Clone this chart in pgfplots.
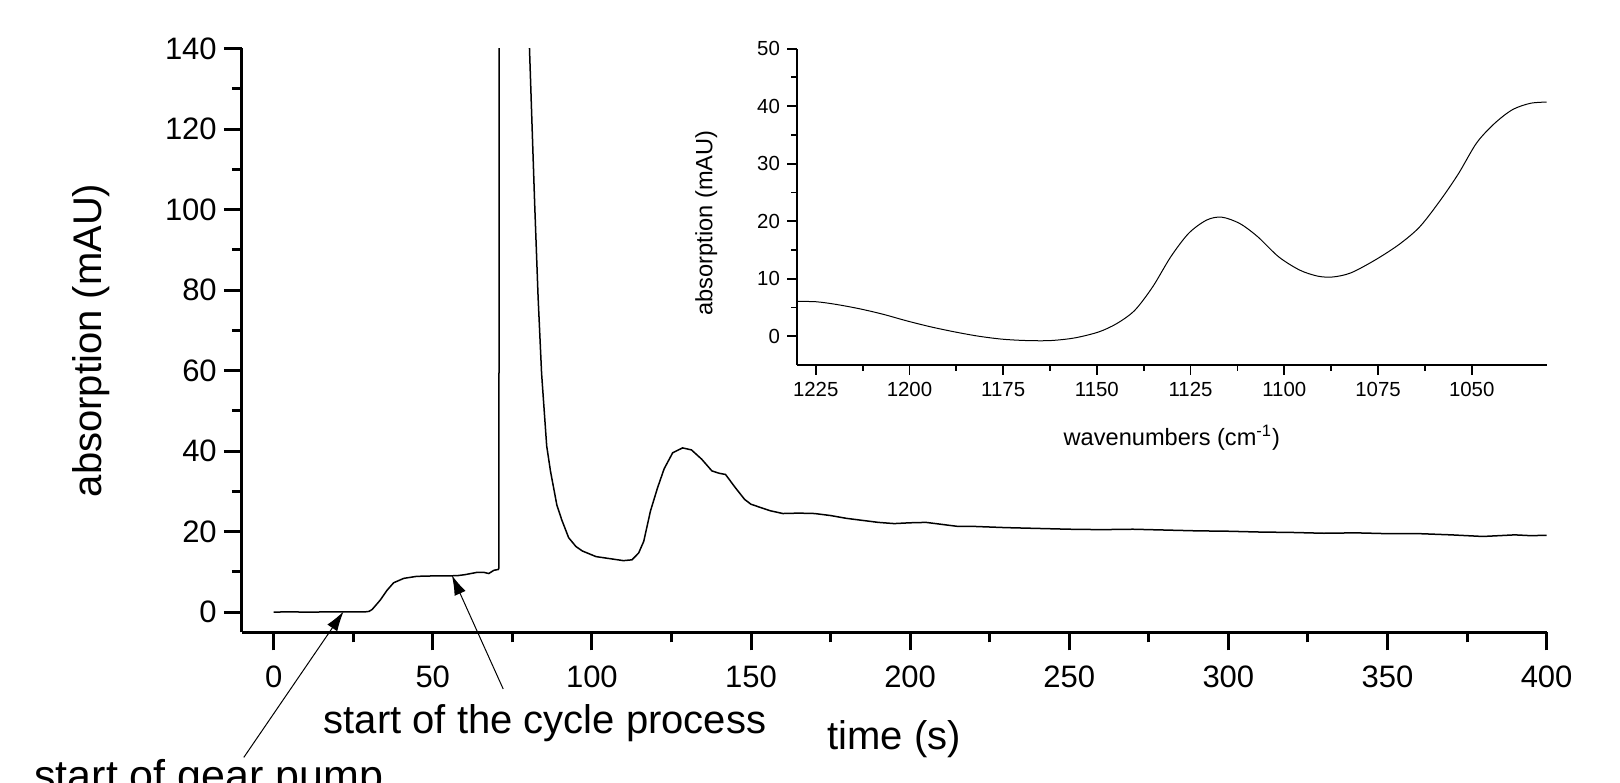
\documentclass[border=0pt]{standalone}
\usepackage{fontspec}
\setmainfont{Liberation Sans}
\usepackage{pgfplots}
\pgfplotsset{compat=1.18}
\usetikzlibrary{arrows.meta}

\begin{document}
\begin{tikzpicture}[x=1pt,y=1pt]
\useasboundingbox (0,0) rectangle (810,391);

% main chromatogram-like trace
\begin{axis}[
  at={(120.9pt,74.85pt)}, anchor=south west,
  scale only axis, width=652.4pt, height=291.9pt,
  xmin=-10, xmax=400, ymin=-5, ymax=140,
  axis x line*=bottom, axis y line*=left,
  axis line style={line width=1.5pt, -},
  xtick={0,50,...,400}, ytick={0,20,...,140},
  minor x tick num=1, minor y tick num=1,
  tick align=outside,
  major tick length=9pt, minor tick length=5pt,
  every tick/.style={black, line width=1.5pt},
  ticklabel style={font=\fontsize{15.5}{18}\selectfont},
  xticklabel style={yshift=-4pt},
  /pgf/number format/assume math mode=true,
  xlabel={time (s)}, ylabel={absorption (mAU)},
  xlabel style={at={(axis description cs:0.5,-0.183)}, anchor=center, font=\fontsize{20}{24}\selectfont},
  ylabel style={at={(axis description cs:-0.1156,0.5)}, anchor=center, font=\fontsize{20}{24}\selectfont},
]
\addplot[black, line width=0.75pt] coordinates {
(0,0) (5,0.1) (10,0) (15,0.05) (20,0.1) (25,0.05) (29,0.1) (30,0.2) (31,0.7)
(33.5,3) (35.6,5.4) (37.7,7.3) (40.9,8.4) (45,8.9) (50,9) (55,9) (58,9.1)
(60,9.3) (62,9.6) (64,9.9) (66,9.9) (67.6,9.6) (69.2,10.4) (70.6,10.6)
(70.8,11) (71.0,600) (79.8,600) (80.4,140) (81,125.7) (82,102) (83.1,78.3)
(84.2,59.3) (85.8,41.3) (87,35) (89,26.6) (90.5,23) (92.7,18.5) (95,16.3)
(97,15.2) (101.3,13.8) (105.6,13.3) (109.9,12.8) (112.6,13) (114.7,14.7)
(116.3,17.6) (118.4,25.1) (120.6,30.8) (122.7,35.6) (125.4,39.6) (128.5,40.8)
(131.3,40.3) (134.5,38) (137.7,35.1) (140,34.5) (142,34.2) (145,31) (148,28)
(150,26.8) (153,26) (156,25.2) (160,24.5) (165,24.6) (170,24.5) (175,24)
(180,23.3) (185,22.8) (190,22.3) (195,22) (200,22.2) (205,22.3) (210,21.8)
(215,21.3) (220,21.3) (230,21.0) (240,20.8) (250,20.6) (260,20.5) (270,20.6)
(280,20.4) (290,20.2) (300,20.1) (310,19.9) (320,19.8) (330,19.6) (340,19.7)
(350,19.5) (360,19.5) (370,19.2) (375,19) (380,18.8) (385,19.0) (390,19.2)
(395,19.0) (400,19.1)
};
\coordinate (gp) at (axis cs:22,0.2);
\coordinate (cp) at (axis cs:56,9.2);
\end{axis}

% inset spectrum
\begin{axis}[
  at={(398.5pt,208.5pt)}, anchor=south west,
  scale only axis, width=374.85pt, height=158.2pt,
  xmin=1030, xmax=1230, x dir=reverse, ymin=-5, ymax=50,
  axis x line*=bottom, axis y line*=left,
  axis line style={line width=0.9pt, -},
  xtick={1050,1075,...,1225}, ytick={0,10,...,50},
  minor x tick num=1, minor y tick num=1,
  tick align=outside,
  major tick length=5pt, minor tick length=2.8pt,
  every tick/.style={black, line width=0.9pt},
  ticklabel style={font=\fontsize{10.2}{12}\selectfont},
  /pgf/number format/assume math mode=true,
  /pgf/number format/1000 sep={},
  xlabel={wavenumbers (cm\textsuperscript{-1})}, ylabel={absorption (mAU)},
  xlabel style={at={(axis description cs:0.5,-0.231)}, anchor=center, font=\fontsize{11.8}{14}\selectfont},
  ylabel style={at={(axis description cs:-0.121,0.449)}, anchor=center, font=\fontsize{11.8}{14}\selectfont},
]
\addplot[black, line width=0.5pt, smooth] coordinates {
(1230,6.04) (1225,6.0) (1219.9,5.57) (1213.5,4.8) (1207.1,3.83) (1200.7,2.67)
(1194.3,1.63) (1187.9,0.75) (1181.5,0) (1175.1,-0.52) (1168.7,-0.75)
(1162.3,-0.75) (1155.9,-0.29) (1149.5,0.75) (1144.7,2.2) (1139.9,4.5)
(1135.1,8.6) (1130.3,13.8) (1125.5,17.9) (1120.7,20.2) (1116.7,20.7)
(1111.9,19.6) (1107.1,17.3) (1101.5,13.8) (1095.9,11.5) (1091.1,10.45)
(1087.1,10.3) (1082.3,11.0) (1075.9,13.2) (1069.5,15.9) (1063.9,19.0)
(1058.3,23.7) (1053.5,28.3) (1048.7,33.6) (1043.9,37.0) (1039.1,39.4)
(1034.3,40.5) (1030.0,40.7)
};
\end{axis}

% annotations
\draw[line width=0.5pt, -{Latex[length=10pt,width=6pt]}] (121.9,12.3) -- (gp);
\draw[line width=0.5pt, -{Latex[length=10pt,width=6pt]}] (251.6,46.5) -- (cp);
\node[anchor=base west, inner sep=0, font=\fontsize{20}{24}\selectfont] at (161.7,24.2) {start of the cycle process};
\node[anchor=base west, inner sep=0, font=\fontsize{21.5}{25}\selectfont] at (17,-4) {start of gear pump};
\end{tikzpicture}
\end{document}
